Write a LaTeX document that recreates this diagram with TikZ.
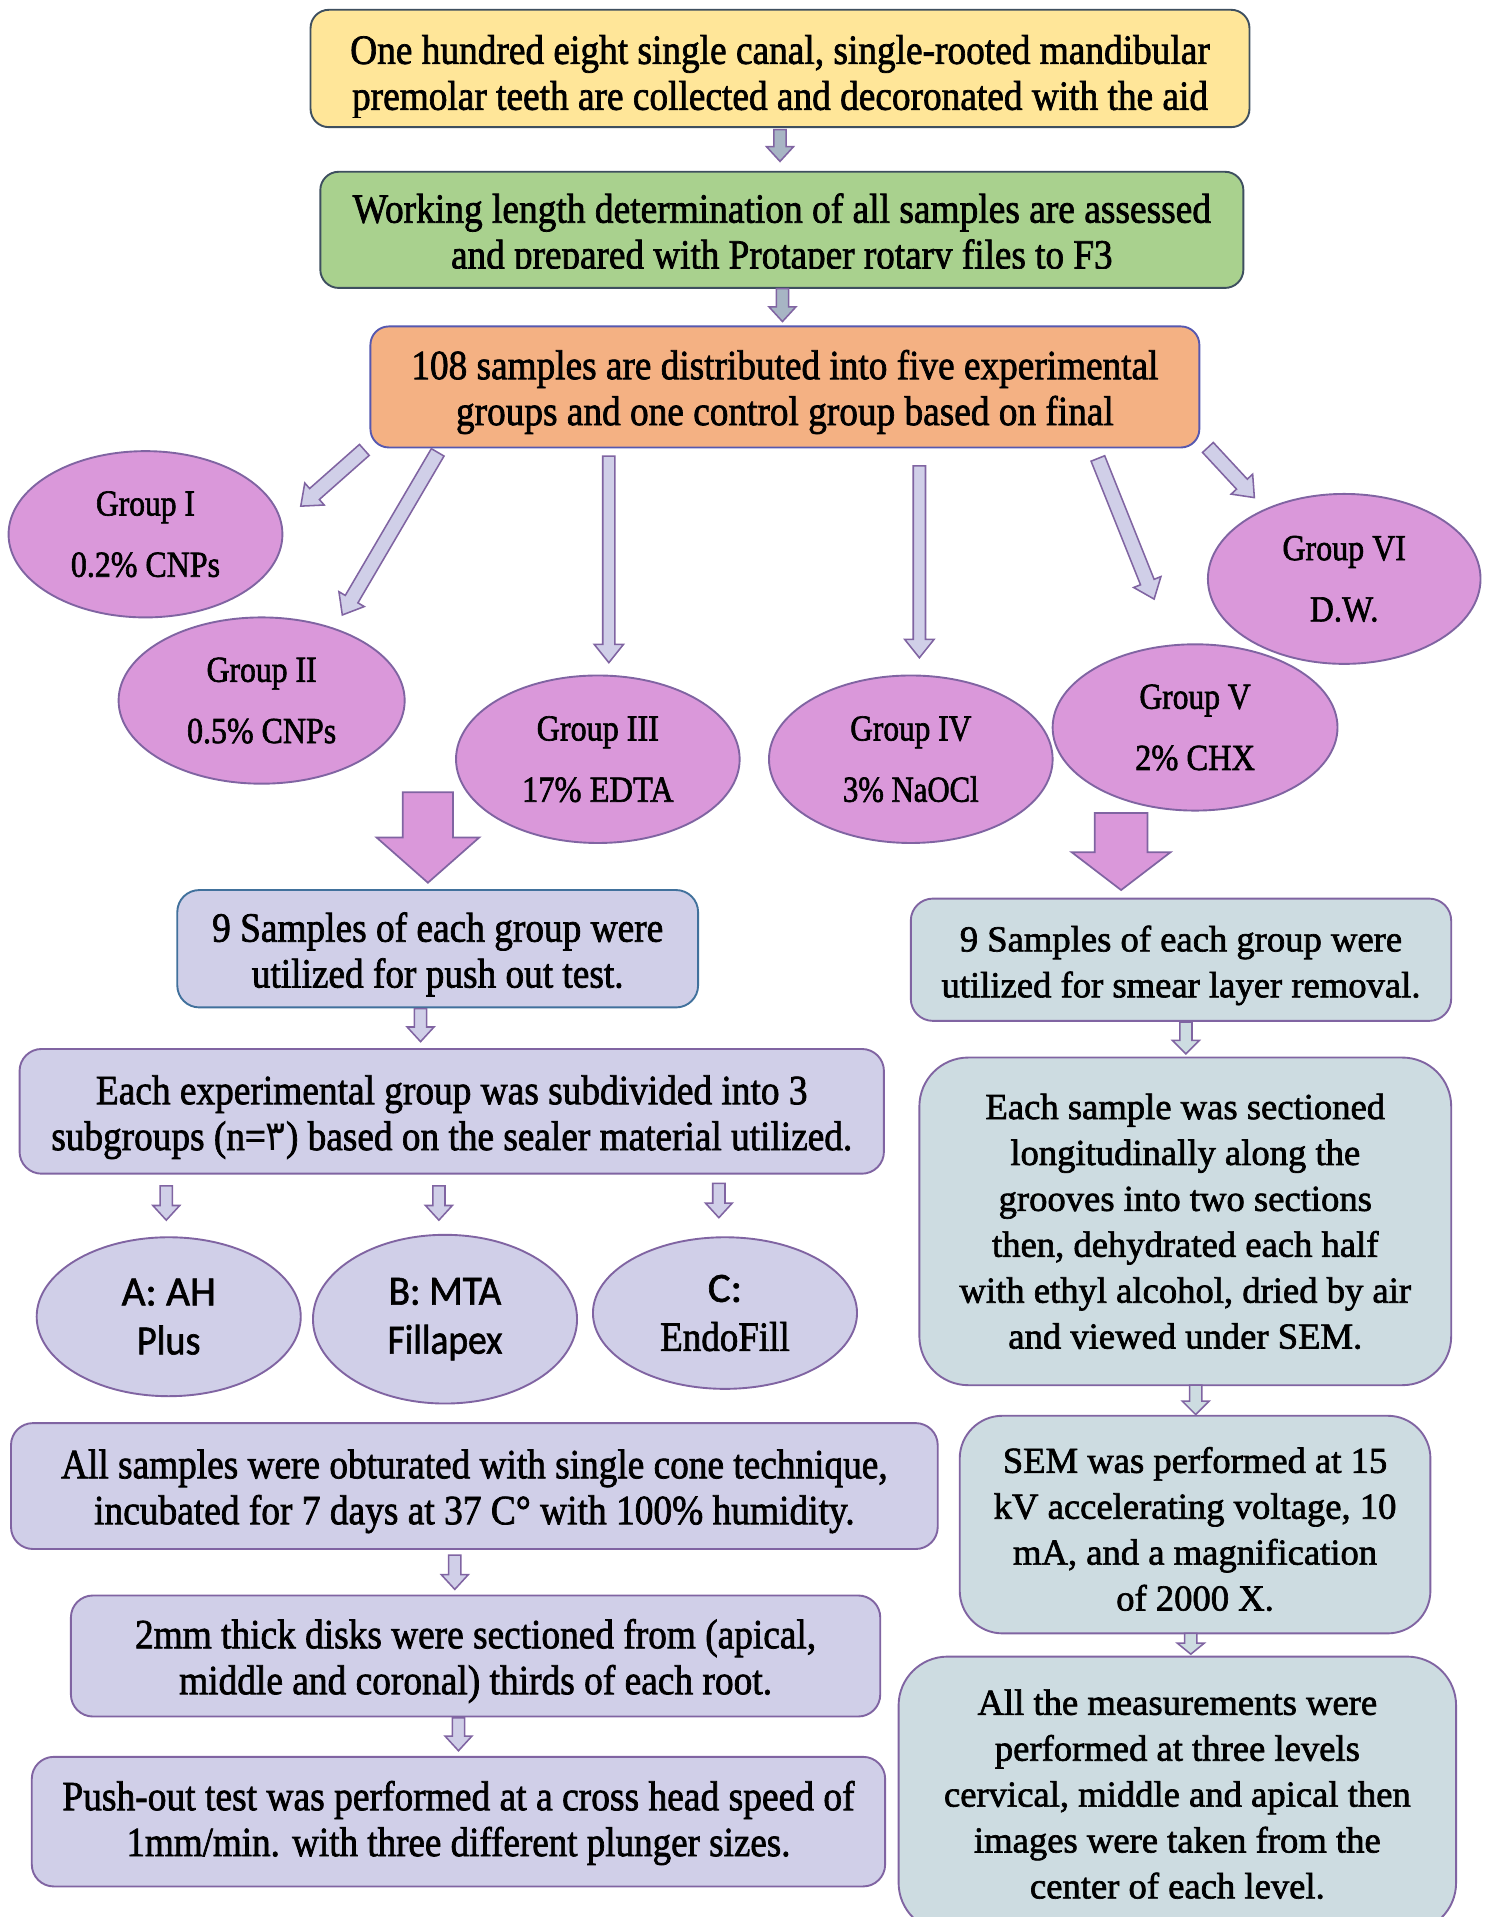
\documentclass[tikz,border=0pt]{standalone}
\usepackage{fontspec}
\usepackage{graphicx}
\setmainfont{Liberation Serif}[FakeBold=1.8]
\newfontfamily\sansf{Carlito}[FakeBold=1.5]
\newfontfamily\arabicfont{DejaVu Sans}
\usetikzlibrary{calc,shapes.geometric}
\newlength\uu \setlength\uu{0.025cm}
\newcommand\sq[2]{\resizebox{#1\uu}{\height}{#2}}
\newcommand\lfont{\fontsize{24.2}{26.7}\selectfont}
\newcommand\rfont{\fontsize{21.3}{26.7}\selectfont}
\newcommand\lift[1]{\rule{0pt}{#1pt}}
\definecolor{cyel}{HTML}{FFE699}
\definecolor{cgrn}{HTML}{A9D18E}
\definecolor{corg}{HTML}{F4B183}
\definecolor{cpink}{HTML}{DA98DA}
\definecolor{clav}{HTML}{D0CFE8}
\definecolor{cblu}{HTML}{CDDCE1}
\definecolor{cpur}{HTML}{8064A2}
\definecolor{cdark}{HTML}{3E4F5F}
\definecolor{cbpur}{HTML}{5658B0}
\definecolor{cblue}{HTML}{41719C}
\definecolor{cgray}{HTML}{A7B5C4}
\newcommand\blk[6]{%
 \coordinate (bb) at ($(#3)!#6\uu!(#2)$);
 \draw[#1] ($(#2)!#4\uu!90:(#3)$) -- ($(bb)!#4\uu!90:(#3)$) -- ($(bb)!#5\uu!90:(#3)$) -- (#3) -- ($(bb)!#5\uu!-90:(#3)$) -- ($(bb)!#4\uu!-90:(#3)$) -- ($(#2)!#4\uu!-90:(#3)$) -- cycle;}
\tikzset{
 base/.style={draw=cpur, line width=1.1pt, rounded corners=18\uu, inner sep=0pt, align=center},
 lbox/.style={base, fill=clav, font=\lfont},
 rbox/.style={base, fill=cblu, font=\rfont},
 grp/.style={ellipse, draw=cpur, line width=1.1pt, fill=cpink, inner sep=0pt, align=center, font=\fontsize{21.3}{35.6}\selectfont},
 sub/.style={ellipse, draw=cpur, line width=1.1pt, fill=clav, inner sep=0pt, align=center, font=\fontsize{24.2}{28.5}\selectfont},
 arrgray/.style={draw=cpur, fill=cgray, line width=0.9pt},
 arrlav/.style={draw=cpur, fill=clav, line width=0.9pt},
 arrblu/.style={draw=cpur, fill=cblu, line width=0.9pt},
 arrpink/.style={draw=cpur, fill=cpink, line width=1pt},
 plain/.style={inner sep=0pt, align=center, font=\lfont},
}
\begin{document}
\begin{tikzpicture}[x=0.025cm, y=-0.025cm]
\clip (0,0) rectangle (1218,1568);
\fill[white] (0,0) rectangle (1218,1568);

% top boxes
\node[base, fill=cyel, draw=cdark, rounded corners=15\uu, minimum width=768\uu, minimum height=96\uu] (b1) at (638,56) {};
\begin{scope}
\clip (254,8) rectangle (1022,96);
\node[plain] (b1t) at (b1.center)
 {\lift{26.5}\sq{703}{One hundred eight single canal, single-rooted mandibular}\\\sq{700}{premolar teeth are collected and decoronated with the aid}};
\end{scope}
\node[base, fill=cgrn, draw=cdark, rounded corners=15\uu, minimum width=755\uu, minimum height=95\uu] (b2) at (639.5,188) {};
\begin{scope}
\clip (262,140) rectangle (1017,219.5);
\node[plain] (b2t) at (b2.center)
 {\lift{23.6}\sq{702}{Working length determination of all samples are assessed}\\\sq{541}{and prepared with Protaper rotary files to F3}};
\end{scope}
\node[base, fill=corg, draw=cbpur, rounded corners=15\uu, minimum width=678\uu, minimum height=99\uu, font=\lfont] (b3) at (642,316.5)
 {\lift{22.9}\sq{611}{108 samples are distributed into five experimental}\\\sq{538}{groups and one control group based on final}};

\coordinate (a1t) at (638,106); \coordinate (a1h) at (638,132);
\coordinate (a2t) at (640,236); \coordinate (a2h) at (640,263);
\blk{arrgray}{a1t}{a1h}{5}{11}{12}
\blk{arrgray}{a2t}{a2h}{5}{11}{12}

% group ellipses
\node[grp, minimum width=224\uu, minimum height=136\uu] (g1) at (119,437) {\sq{81}{Group I}\\\sq{122}{0.2\% CNPs}};
\node[grp, minimum width=234\uu, minimum height=136\uu] (g2) at (214,573) {\sq{90}{Group II}\\\sq{122}{0.5\% CNPs}};
\node[grp, minimum width=232\uu, minimum height=137\uu] (g3) at (489,621) {\sq{100}{Group III}\\\sq{124}{17\% EDTA}};
\node[grp, minimum width=232\uu, minimum height=137\uu] (g4) at (745,621) {\sq{99}{Group IV}\\\sq{111}{3\% NaOCl}};
\node[grp, minimum width=223\uu, minimum height=139\uu] (g6) at (1099.5,473.5) {\sq{101}{Group VI}\\\sq{56}{D.W.}};
\node[grp, minimum width=233\uu, minimum height=136\uu] (g5) at (977.5,595) {\sq{91}{Group V}\\\sq{98}{2\% CHX}};

\coordinate (t1t) at (298,368); \coordinate (t1h) at (246,414);
\coordinate (t2t) at (358,370); \coordinate (t2h) at (280,503);
\coordinate (t3t) at (498,373); \coordinate (t3h) at (498,542);
\coordinate (t4t) at (752,381); \coordinate (t4h) at (752,538);
\coordinate (t5t) at (898,375); \coordinate (t5h) at (944,490);
\coordinate (t6t) at (988,366); \coordinate (t6h) at (1026,407);
\blk{arrlav}{t1t}{t1h}{6}{12}{15}
\blk{arrlav}{t2t}{t2h}{6}{12}{15}
\blk{arrlav}{t3t}{t3h}{5}{12}{15}
\blk{arrlav}{t4t}{t4h}{5}{12}{15}
\blk{arrlav}{t5t}{t5h}{6}{12}{15}
\blk{arrlav}{t6t}{t6h}{6}{12}{15}

% big pink arrows
\coordinate (p1t) at (350,648); \coordinate (p1h) at (350,722);
\coordinate (p2t) at (917,665); \coordinate (p2h) at (917,728);
\blk{arrpink}{p1t}{p1h}{20.5}{42}{37}
\blk{arrpink}{p2t}{p2h}{21.5}{40.5}{31}

% left column
\node[lbox, draw=cblue, minimum width=426\uu, minimum height=96\uu] (l1) at (358,776)
 {\lift{23.6}\sq{369}{9 Samples of each group were}\\\sq{304}{utilized for push out test.}};
\node[lbox, minimum width=707\uu, minimum height=102\uu] (l2) at (369.5,909)
 {\lift{23.6}\sq{582}{Each experimental group was subdivided into 3}\\\sq{655}{subgroups (n={\arabicfont ٣}) based on the sealer material utilized.}};
\node[sub, minimum width=216\uu, minimum height=130\uu] (sa) at (138,1077) {\sq{77}{\sansf A: AH}\\\sq{52}{\sansf Plus}};
\node[sub, minimum width=216\uu, minimum height=138\uu] (sb) at (364,1079) {\sq{92}{\sansf B: MTA}\\\sq{94}{\sansf Fillapex}};
\node[sub, minimum width=216\uu, minimum height=124\uu] (sc) at (593,1074) {\sq{28}{\sansf C:}\\\sq{106}{EndoFill}};
\node[lbox, minimum width=758\uu, minimum height=103\uu] (l3) at (388,1215.5)
 {\lift{22.9}\sq{676}{All samples were obturated with single cone technique,}\\\sq{622}{incubated for 7 days at 37 C° with 100\% humidity.}};
\node[lbox, minimum width=662\uu, minimum height=99\uu] (l4) at (389,1354.5)
 {\lift{22.9}\sq{557}{2mm thick disks were sectioned from (apical,}\\\sq{485}{middle and coronal) thirds of each root.}};
\node[lbox, minimum width=698\uu, minimum height=106\uu] (l5) at (375,1490)
 {\lift{18.6}\sq{648}{Push-out test was performed at a cross head speed of}\\\sq{543}{1mm/min. with three different plunger sizes.}};

\coordinate (s1t) at (344,825); \coordinate (s1h) at (344,852);
\coordinate (s2t) at (136,970); \coordinate (s2h) at (136,998);
\coordinate (s3t) at (359,970); \coordinate (s3h) at (359,998);
\coordinate (s4t) at (588,968); \coordinate (s4h) at (588,996);
\coordinate (s5t) at (372,1272); \coordinate (s5h) at (372,1300);
\coordinate (s6t) at (375,1405); \coordinate (s6h) at (375,1432);
\blk{arrlav}{s1t}{s1h}{5}{11}{12}
\blk{arrlav}{s2t}{s2h}{5}{11}{12}
\blk{arrlav}{s3t}{s3h}{5}{11}{12}
\blk{arrlav}{s4t}{s4h}{5}{11}{12}
\blk{arrlav}{s5t}{s5h}{5}{11}{12}
\blk{arrlav}{s6t}{s6h}{5}{11}{12}

% right column
\node[rbox, minimum width=442\uu, minimum height=100\uu] (r1) at (966,785)
 {\lift{21.6}9 Samples of each group were\\utilized for smear layer removal.};
\node[rbox, rounded corners=40\uu, minimum width=435\uu, minimum height=268\uu] (r2) at (969.5,999)
 {Each sample was sectioned\\longitudinally along the\\grooves into two sections\\then, dehydrated each half\\with ethyl alcohol, dried by air\\and viewed under SEM.};
\node[rbox, rounded corners=35\uu, minimum width=385\uu, minimum height=178\uu] (r3) at (977.5,1247)
 {\lift{20.2}SEM was performed at 15\\kV accelerating voltage, 10\\mA, and a magnification\\of 2000 X.};
\node[rbox, rounded corners=40\uu, minimum width=456\uu, minimum height=225\uu] (r4) at (963,1467.5)
 {All the measurements were\\performed at three levels\\cervical, middle and apical then\\images were taken from the\\center of each level.};

\coordinate (r1t) at (970,836); \coordinate (r1h) at (970,862);
\coordinate (r2t) at (978,1133); \coordinate (r2h) at (978,1157);
\coordinate (r3t) at (974,1336); \coordinate (r3h) at (974,1353);
\blk{arrblu}{r1t}{r1h}{5}{11}{11}
\blk{arrblu}{r2t}{r2h}{5}{11}{11}
\blk{arrblu}{r3t}{r3h}{5}{11}{9}
\end{tikzpicture}
\end{document}
